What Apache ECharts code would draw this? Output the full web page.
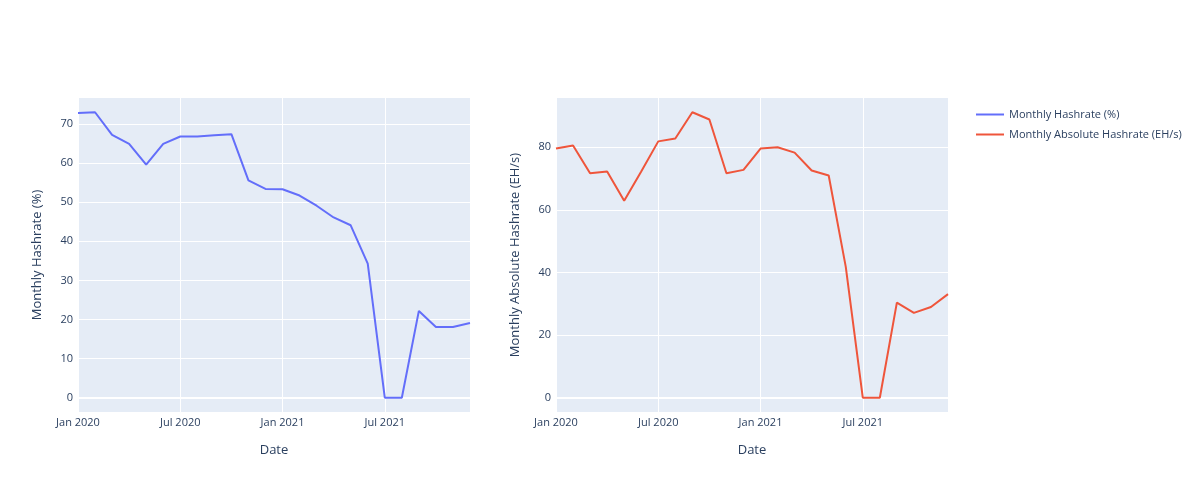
<!DOCTYPE html>
<html>
<head>
<meta charset="utf-8">
<script src="https://cdn.jsdelivr.net/npm/echarts@6/dist/echarts.min.js"></script>
<style>
  html, body { margin: 0; padding: 0; background: #fff; }
  #chart { width: 1200px; height: 492px; }
</style>
</head>
<body>
<div id="chart"></div>
<script>
// monthly points, Jan 2020 .. Dec 2021
const months = [
  'Jan 2020', 'Feb 2020', 'Mar 2020', 'Apr 2020', 'May 2020', 'Jun 2020',
  'Jul 2020', 'Aug 2020', 'Sep 2020', 'Oct 2020', 'Nov 2020', 'Dec 2020',
  'Jan 2021', 'Feb 2021', 'Mar 2021', 'Apr 2021', 'May 2021', 'Jun 2021',
  'Jul 2021', 'Aug 2021', 'Sep 2021', 'Oct 2021', 'Nov 2021', 'Dec 2021'
];
const hashrateShare = [
  72.8, 73.0, 67.2, 64.9, 59.6, 64.9, 66.8, 66.8, 67.1, 67.4, 55.6, 53.4,
  53.3, 51.7, 49.1, 46.1, 44.1, 34.3, 0, 0, 22.2, 18.1, 18.1, 19.1
];
const hashrateAbs = [
  79.6, 80.6, 71.7, 72.3, 62.9, 72.3, 81.9, 82.8, 91.2, 88.9, 71.7, 72.8,
  79.6, 80.0, 78.3, 72.6, 71.0, 41.9, 0, 0, 30.4, 27.1, 29.0, 33.1
];
// month indexes that carry a label: Jan 2020, Jul 2020, Jan 2021, Jul 2021
const xTicks = [0, 6, 12, 18];
const yTicksLeft = [0, 10, 20, 30, 40, 50, 60, 70];
const yTicksRight = [0, 20, 40, 60, 80];

const textColor = '#2a3f5f';
const font = '"Open Sans", Verdana, Arial, sans-serif';

function pairs(vals) {
  return months.map((m, i) => [i, vals[i]]);
}

function xAxisFor(gridIndex) {
  return {
    type: 'value',
    gridIndex: gridIndex,
    min: 0,
    max: months.length - 1,
    name: 'Date',
    nameLocation: 'middle',
    nameGap: 32,
    nameTextStyle: { color: textColor, fontSize: 13, fontFamily: font },
    axisLine: { show: false },
    axisTick: { show: false, customValues: xTicks },
    axisLabel: {
      customValues: xTicks,
      color: textColor,
      fontSize: 11,
      fontFamily: font,
      margin: 5,
      formatter: function (v) { return months[Math.round(v)]; }
    },
    splitLine: { show: true, lineStyle: { color: '#fff', width: 1 } }
  };
}

function yAxisFor(gridIndex, name, min, max, ticks) {
  return {
    type: 'value',
    gridIndex: gridIndex,
    min: min,
    max: max,
    name: name,
    nameLocation: 'middle',
    nameGap: 34,
    nameTextStyle: { color: textColor, fontSize: 13, fontFamily: font },
    axisLine: { show: false },
    axisTick: { show: false, customValues: ticks },
    axisLabel: { customValues: ticks, color: textColor, fontSize: 11, fontFamily: font, margin: 5 },
    splitLine: { show: true, lineStyle: { color: '#fff', width: 1 } }
  };
}

const zeroLine = {
  silent: true,
  symbol: 'none',
  z: 1,
  label: { show: false },
  lineStyle: { color: '#fff', width: 2, type: 'solid' },
  data: [{ yAxis: 0 }]
};

const option = {
  backgroundColor: '#fff',
  animation: false,
  textStyle: { fontFamily: font },
  grid: [
    { left: 78, right: 730, top: 98, bottom: 80, show: true, backgroundColor: '#E5ECF6', borderWidth: 0 },
    { left: 556, right: 252, top: 98, bottom: 80, show: true, backgroundColor: '#E5ECF6', borderWidth: 0 }
  ],
  legend: {
    orient: 'vertical',
    left: 971,
    top: 104,
    itemWidth: 28,
    itemHeight: 2,
    itemGap: 9,
    itemTextGap: 6,
    icon: 'rect',
    textStyle: { color: textColor, fontSize: 11, fontFamily: font },
    data: ['Monthly Hashrate (%)', 'Monthly Absolute Hashrate (EH/s)']
  },
  xAxis: [xAxisFor(0), xAxisFor(1)],
  yAxis: [
    yAxisFor(0, 'Monthly Hashrate (%)', -3.65, 76.65, yTicksLeft),
    yAxisFor(1, 'Monthly Absolute Hashrate (EH/s)', -4.56, 95.76, yTicksRight)
  ],
  series: [
    {
      name: 'Monthly Hashrate (%)',
      type: 'line',
      xAxisIndex: 0,
      yAxisIndex: 0,
      showSymbol: false,
      color: '#636EFA',
      lineStyle: { width: 2, color: '#636EFA' },
      markLine: zeroLine,
      z: 3,
      data: pairs(hashrateShare)
    },
    {
      name: 'Monthly Absolute Hashrate (EH/s)',
      type: 'line',
      xAxisIndex: 1,
      yAxisIndex: 1,
      showSymbol: false,
      color: '#EF553B',
      lineStyle: { width: 2, color: '#EF553B' },
      markLine: zeroLine,
      z: 3,
      data: pairs(hashrateAbs)
    }
  ]
};

const chart = echarts.init(document.getElementById('chart'));
chart.setOption(option);
</script>
</body>
</html>
